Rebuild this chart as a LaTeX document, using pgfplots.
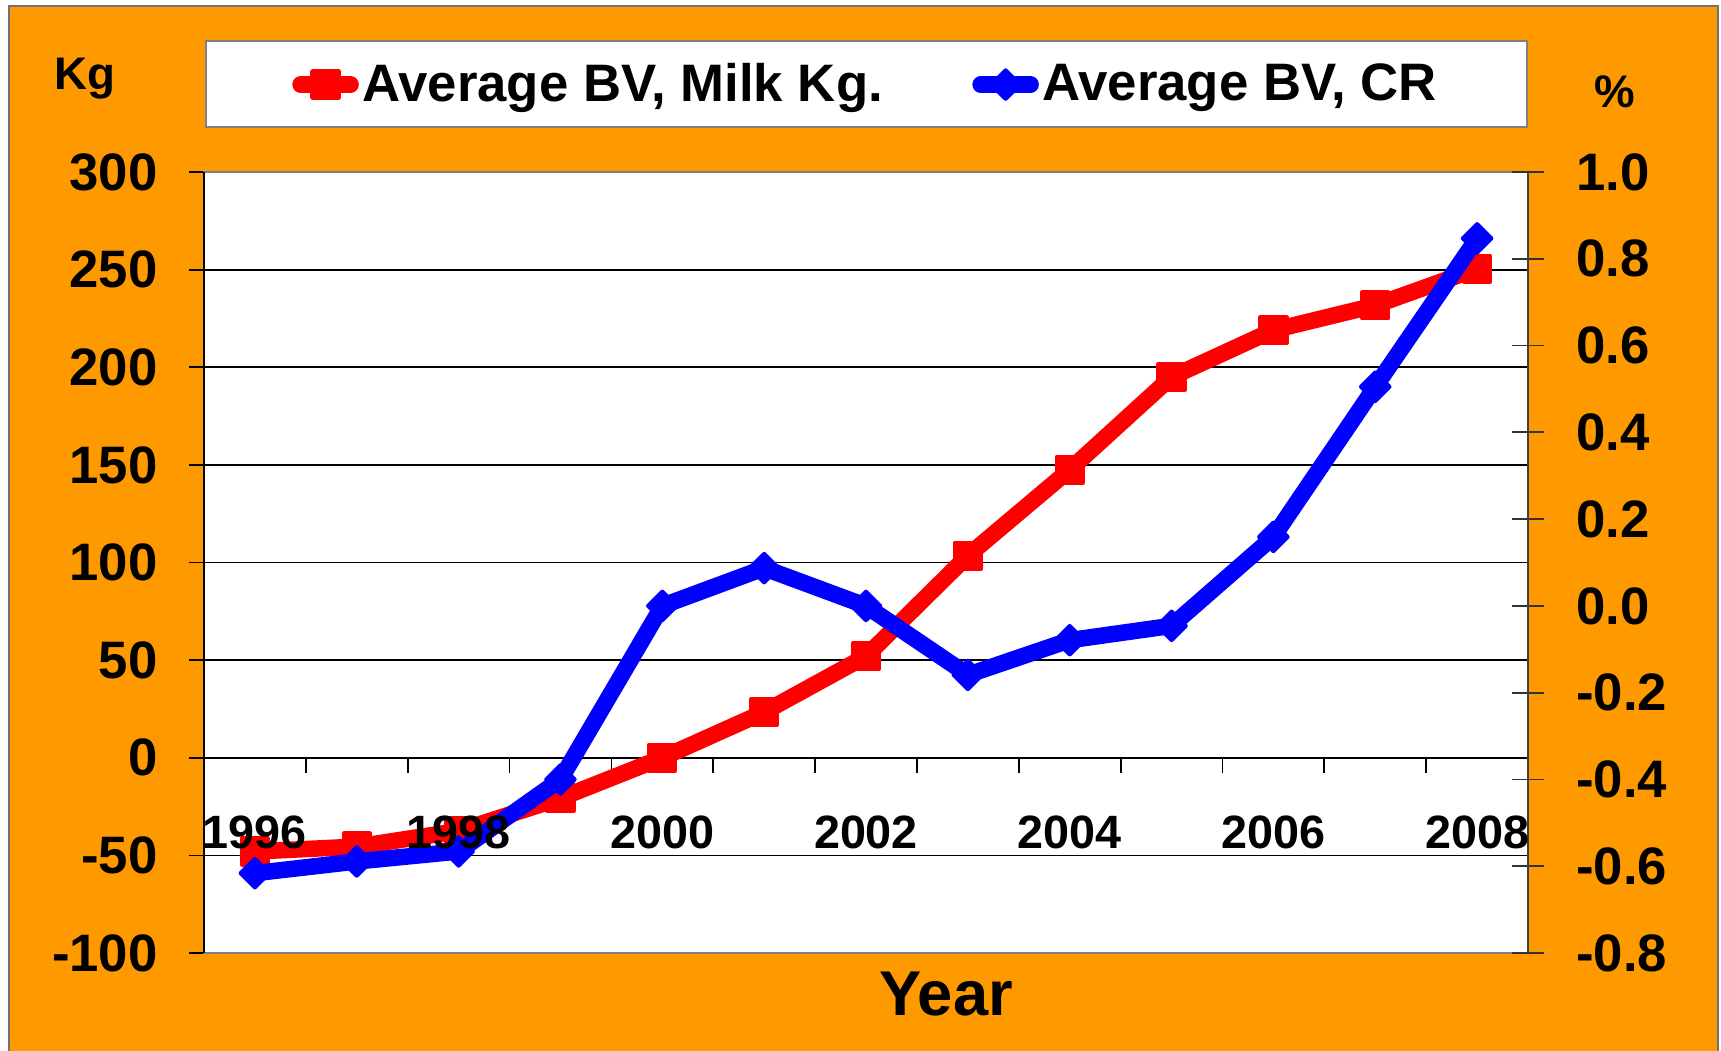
\documentclass[border=0pt]{standalone}
\usepackage{fontspec}
\setmainfont{Liberation Sans}
\usepackage{pgfplots}
\pgfplotsset{compat=1.18}
\definecolor{bgorange}{HTML}{FF9900}
\definecolor{framegray}{HTML}{7F7F7F}

\pgfplotsset{
  /pgf/number format/assume math mode=true,
  chartbase/.style={
    scale only axis, width=132.4mm, height=78.1mm,
    at={(0,0)}, anchor=south west,
    xmin=-0.5, xmax=12.5,
    legend image code/.code={%
      \draw[mark repeat=2,mark phase=2,#1,line cap=round]
        plot coordinates {(0mm,0mm) (2.5mm,0mm) (5mm,0mm)};},
    legend style={draw=none, fill=none, inner sep=0pt,
      font=\bfseries\fontsize{15}{18}\selectfont,
      nodes={inner sep=1pt}},
  },
}

\begin{document}
\begin{tikzpicture}
% canvas and orange chart area
\path[use as bounding box] (-20.4mm,-9.7mm) rectangle (151.7mm,95.3mm);
\fill[white] (-20.4mm,-9.7mm) rectangle (151.7mm,95.3mm);
\filldraw[fill=bgorange, draw=black!55, line width=0.6pt]
  (-19.5mm,-12mm) rectangle (151.4mm,94.7mm);
% legend frame
\filldraw[fill=white, draw=framegray, line width=0.6pt]
  (0.2mm,82.6mm) rectangle (132.3mm,91.2mm);

% left axis: milk kg
\begin{axis}[
  chartbase,
  ymin=-100, ymax=300,
  axis x line=middle, axis y line=left,
  axis line style={-, black, line width=0.6pt},
  axis background/.style={fill=white},
  ymajorgrids, major grid style={black, line width=0.5pt},
  ytick={-100,-50,...,300},
  ytick align=outside,
  xtick={0.5,1.5,...,11.5},
  xticklabels={},
  xtick align=outside,
  major tick length=1.5mm,
  tick style={black, line width=0.5pt},
  yticklabel style={font=\bfseries\fontsize{15}{16}\selectfont, xshift=-1.9mm},
  legend style={at={(axis description cs:0.0662,1.112)}, anchor=west},
  after end axis/.code={
    \draw[framegray, line width=0.6pt] (rel axis cs:0,0) rectangle (rel axis cs:1,1);
    \draw[black, line width=0.6pt] (rel axis cs:0,0) -- (rel axis cs:0,1);
  },
]
\addplot[color=red, line width=4.7pt, line join=round,
  mark=square*, mark size=1.3mm,
  mark options={solid, line width=1.2pt, line join=round}]
  coordinates {
  (0,-48) (1,-45.5) (2,-37.5) (3,-20.7) (4,0) (5,23.4) (6,52)
  (7,103.5) (8,147.5) (9,195) (10,219) (11,231.7) (12,250.5)
  };
\addlegendentry{Average BV, Milk Kg.}
\end{axis}

% right axis: CR %
\begin{axis}[
  chartbase,
  ymin=-0.8, ymax=1.0,
  axis x line=none, axis y line*=right,
  axis line style={-, black!75, line width=0.6pt},
  ytick={-0.8,-0.6,-0.4,-0.2,0,0.2,0.4,0.6,0.8,1.0},
  ytick align=center, major tick length=3.2mm,
  tick style={black!80, line width=0.5pt},
  yticklabel style={font=\bfseries\fontsize{15}{16}\selectfont, xshift=2.0mm,
    /pgf/number format/.cd, fixed, fixed zerofill, precision=1},
  legend style={at={(axis description cs:0.5798,1.112)}, anchor=west},
]
\addplot[color=blue, line width=4.7pt, line join=round,
  mark=square*, mark size=1.0mm,
  mark options={solid, rotate=45, line width=1.2pt, line join=round}]
  coordinates {
  (0,-0.616) (1,-0.589) (2,-0.566) (3,-0.40) (4,0.0) (5,0.087) (6,0.0)
  (7,-0.159) (8,-0.079) (9,-0.046) (10,0.159) (11,0.505) (12,0.847)
  };
\addlegendentry{Average BV, CR}
\end{axis}

% year labels, set over the lines as in the reference
\begin{axis}[
  chartbase,
  ymin=-100, ymax=300,
  axis x line=middle, axis y line=none,
  x axis line style={draw=none},
  xtick={0,2,4,6,8,10,12},
  xticklabels={1996,1998,2000,2002,2004,2006,2008},
  major tick length=0pt,
  xticklabel style={font=\bfseries\fontsize{13.3}{14}\selectfont, yshift=-4.6mm},
]
\end{axis}

\node[anchor=base, font=\bfseries\fontsize{13}{14}\selectfont] at (-11.9mm,86.3mm) {Kg};
\node[anchor=base, font=\bfseries\fontsize{13}{14}\selectfont] at (141.1mm,84.5mm) {\%};
\node[anchor=base, font=\bfseries\fontsize{18}{20}\selectfont] at (74.2mm,-6.2mm) {Year};
\end{tikzpicture}
\end{document}
